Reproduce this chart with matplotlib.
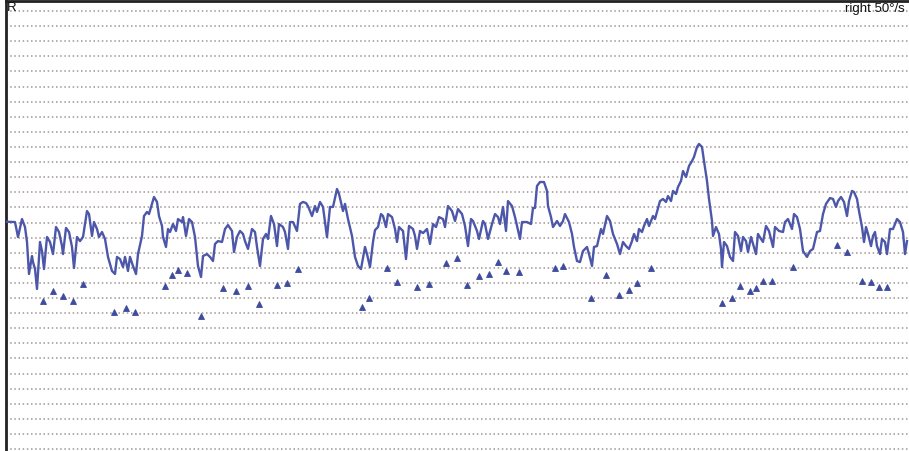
import matplotlib
matplotlib.use("Agg")
import matplotlib.pyplot as plt

# Slow-phase velocity trace (time in samples, amplitude in grid units)
trace_t = [7, 15, 18, 22, 25, 27, 29, 32, 33, 35, 37, 40, 42, 44, 47, 50, 53, 56, 59, 62,
           63, 66, 69, 72, 74, 77, 80, 83, 87, 89, 92, 94, 97, 99, 102, 105, 108, 112, 115, 117,
           120, 123, 125, 128, 130, 133, 136, 138, 142, 144, 147, 149, 152, 154, 157, 159, 162, 163, 166, 168,
           170, 173, 176, 178, 182, 183, 186, 189, 192, 195, 198, 201, 203, 207, 210, 213, 215, 218, 222, 225,
           228, 232, 234, 237, 240, 243, 245, 248, 252, 255, 257, 260, 263, 266, 268, 271, 274, 277, 279, 283,
           285, 288, 290, 293, 297, 300, 303, 306, 308, 312, 315, 317, 320, 323, 327, 330, 333, 337, 339, 343,
           345, 348, 352, 355, 358, 361, 365, 367, 370, 373, 375, 378, 381, 383, 386, 388, 392, 395, 397, 399,
           403, 406, 409, 413, 415, 417, 420, 423, 427, 430, 433, 436, 439, 443, 445, 448, 452, 455, 458, 462,
           465, 468, 471, 473, 477, 479, 483, 485, 488, 492, 495, 498, 500, 503, 506, 508, 512, 515, 517, 520,
           522, 527, 531, 533, 535, 537, 540, 544, 547, 548, 551, 553, 557, 560, 563, 565, 569, 572, 574, 577,
           580, 583, 587, 589, 592, 594, 597, 601, 603, 607, 610, 613, 617, 620, 623, 626, 629, 632, 634, 637,
           639, 642, 644, 647, 649, 653, 655, 657, 660, 663, 666, 668, 671, 673, 676, 678, 681, 683, 686, 689,
           692, 694, 697, 699, 702, 704, 707, 709, 712, 713, 716, 719, 721, 722, 724, 727, 730, 733, 735, 738,
           741, 743, 746, 748, 751, 753, 756, 758, 761, 763, 766, 769, 773, 775, 779, 783, 785, 788, 792, 794,
           797, 800, 803, 807, 810, 813, 817, 820, 823, 826, 830, 833, 836, 838, 841, 844, 847, 849, 852, 854,
           857, 859, 862, 864, 866, 868, 871, 873, 875, 877, 880, 882, 885, 887, 890, 893, 897, 900, 903, 905,
           907]
trace_v = [15.05, 15.03, 14.04, 15.23, 14.70, 13.71, 11.59, 12.78, 12.38, 11.92, 10.60, 13.71, 13.11, 11.92, 14.04, 13.71, 12.91, 14.70, 14.37, 13.44,
           12.91, 14.64, 14.37, 13.38, 11.99, 14.04, 13.77, 14.04, 15.76, 15.56, 14.11, 15.03, 14.57, 14.04, 14.37, 13.91, 12.72, 11.79, 11.59, 12.72,
           12.58, 12.05, 12.72, 11.79, 12.72, 12.12, 11.59, 12.91, 14.11, 15.43, 15.70, 15.56, 16.23, 16.69, 16.36, 15.43, 14.77, 14.04, 13.38, 14.57,
           14.37, 14.90, 14.44, 15.23, 15.03, 15.36, 14.11, 15.23, 15.03, 14.04, 12.12, 11.39, 12.78, 12.91, 12.72, 12.45, 13.58, 13.77, 13.71, 14.57,
           14.83, 14.44, 13.05, 14.04, 14.44, 14.24, 13.77, 13.25, 14.57, 14.37, 13.38, 12.12, 13.91, 14.24, 13.91, 15.43, 14.90, 13.44, 14.90, 14.70,
           14.37, 13.25, 15.03, 15.03, 14.44, 16.23, 16.36, 16.29, 16.09, 15.43, 16.09, 15.70, 16.36, 16.03, 14.04, 16.03, 16.03, 17.22, 16.89, 15.76,
           16.23, 15.23, 14.11, 12.72, 12.12, 11.92, 13.38, 12.91, 12.05, 13.71, 14.50, 14.70, 15.56, 15.43, 14.70, 15.56, 15.36, 14.57, 13.71, 14.70,
           14.44, 12.58, 14.77, 14.57, 14.11, 13.25, 14.44, 14.30, 14.57, 13.58, 14.90, 14.70, 15.36, 15.23, 14.70, 16.09, 15.76, 15.10, 15.89, 15.56,
           14.77, 13.44, 15.23, 15.10, 14.44, 13.91, 15.10, 14.90, 13.91, 14.90, 15.56, 15.36, 14.90, 16.03, 14.44, 16.42, 16.09, 15.36, 14.77, 13.91,
           15.03, 15.03, 14.90, 15.96, 15.96, 17.42, 17.68, 17.68, 17.09, 16.09, 15.36, 14.70, 15.10, 14.77, 15.10, 15.56, 15.03, 14.24, 13.38, 12.45,
           12.38, 13.11, 13.38, 12.91, 12.12, 13.38, 13.44, 14.57, 14.24, 15.43, 15.10, 14.24, 13.58, 12.91, 13.71, 13.44, 13.25, 13.77, 14.24, 13.77,
           14.57, 14.37, 14.77, 15.23, 14.77, 15.43, 15.23, 15.70, 16.42, 16.56, 16.36, 16.75, 16.42, 17.09, 16.89, 17.35, 17.75, 18.41, 18.01, 18.74,
           19.07, 19.34, 20.00, 20.20, 20.00, 19.07, 17.75, 16.56, 15.10, 14.11, 14.70, 14.24, 13.25, 12.05, 13.71, 13.44, 12.72, 12.45, 14.37, 14.11,
           13.11, 14.04, 13.77, 13.05, 14.04, 13.58, 12.91, 14.24, 13.91, 13.71, 14.77, 14.44, 13.38, 14.70, 14.44, 14.37, 15.03, 15.23, 14.57, 15.56,
           15.36, 14.57, 13.11, 12.72, 13.11, 13.25, 14.37, 14.44, 15.56, 16.23, 16.62, 16.56, 16.03, 16.42, 16.69, 16.36, 15.43, 16.42, 17.09, 17.02,
           16.56, 15.76, 14.70, 13.71, 14.70, 14.24, 13.44, 14.11, 14.37, 13.44, 12.91, 13.91, 13.71, 12.91, 14.57, 14.57, 15.23, 15.03, 14.37, 12.91,
           13.77]

# Individual beat markers
beat_t = [43, 53, 63, 73, 83, 114, 126, 135, 165, 172, 178, 187, 201, 223, 236, 248, 259, 277, 287, 298,
          362, 369, 387, 397, 417, 429, 446, 457, 467, 479, 489, 498, 506, 519, 555, 563, 591, 606, 619, 629,
          637, 651, 722, 732, 740, 750, 756, 763, 772, 793, 837, 847, 862, 871, 879, 887]
beat_v = [9.80, 10.46, 10.13, 9.80, 10.93, 9.07, 9.34, 9.07, 10.79, 11.52, 11.85, 11.66, 8.81, 10.66, 10.46, 10.79, 9.60, 10.86, 10.99, 11.92,
          9.40, 10.00, 11.99, 11.06, 10.73, 10.93, 12.32, 12.65, 10.86, 11.46, 11.59, 12.38, 11.79, 11.72, 11.99, 12.12, 10.00, 11.52, 10.20, 10.53,
          10.99, 11.99, 9.67, 10.00, 10.79, 10.46, 10.66, 11.13, 11.13, 12.05, 13.51, 13.05, 11.13, 11.06, 10.73, 10.73]

grid_levels = list(range(30))

W, H = 909, 452
fig = plt.figure(figsize=(W / 100, H / 100), dpi=100)
fig.patch.set_facecolor("white")

ax = fig.add_axes([6 / W, 0, 1 - 6 / W, 1 - 1.5 / H])
ax.set_xlim(6, 909)
ax.set_ylim(-0.13, 29.70)
ax.set_facecolor("white")

for lv in grid_levels:
    ax.axhline(lv, color="#a89c9a", lw=1.2, ls=(0, (0.9, 1.6)), zorder=1)

ax.plot(trace_t, trace_v, color="#4d57aa", lw=1.7, zorder=3, solid_joinstyle="round")
ax.plot(beat_t, beat_v, ls="none", marker="^", ms=4.6, color="#3f4c9e",
        markeredgewidth=0.6, zorder=4)

for side in ("right", "bottom"):
    ax.spines[side].set_visible(False)
for side in ("left", "top"):
    ax.spines[side].set_color("#222222")
    ax.spines[side].set_linewidth(2.0)
ax.set_xticks([])
ax.set_yticks([])

fig.text(7 / W, 1 - 2 / H, "R", ha="left", va="top", fontsize=9.5,
         family="Liberation Sans", color="#111111")
fig.text(905 / W, 1 - 3 / H, "right 50°/s", ha="right", va="top", fontsize=9.5,
         family="Liberation Sans", color="#111111")

fig.savefig("out.png", dpi=100)
